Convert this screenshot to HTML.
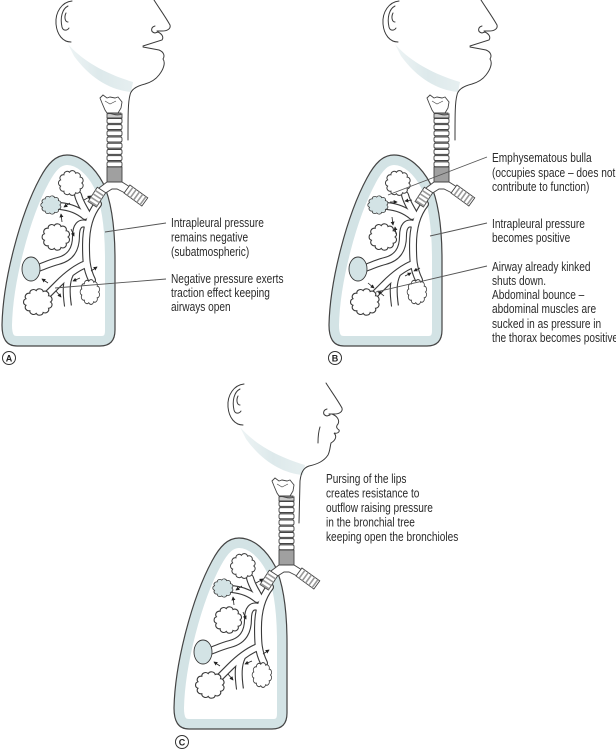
<!DOCTYPE html>
<html><head><meta charset="utf-8"><style>
html,body{margin:0;padding:0;background:#fff;}
svg{display:block;}
</style></head><body>
<svg width="616" height="750" viewBox="0 0 616 750" xmlns="http://www.w3.org/2000/svg">
<defs>
  <marker id="ah" viewBox="0 0 6 6" refX="5" refY="3" markerWidth="4" markerHeight="4" orient="auto" markerUnits="userSpaceOnUse">
    <path d="M0 0 L6 3 L0 6 Z" fill="#222"/>
  </marker>
  <linearGradient id="ng" x1="0" y1="0" x2="1" y2="0">
    <stop offset="0" stop-color="#eef4f5"/>
    <stop offset="0.5" stop-color="#dde9eb"/>
    <stop offset="1" stop-color="#e6eff0"/>
  </linearGradient>
  <path id="cl" d="M10 0 A3 3 0 0 1 8.41 5.41 A3 3 0 0 1 4.15 9.1 A3 3 0 0 1 -1.42 9.9 A3 3 0 0 1 -6.55 7.56 A3 3 0 0 1 -9.6 2.82 A3 3 0 0 1 -9.6 -2.82 A3 3 0 0 1 -6.55 -7.56 A3 3 0 0 1 -1.42 -9.9 A3 3 0 0 1 4.15 -9.1 A3 3 0 0 1 8.41 -5.41 A3 3 0 0 1 10 0 Z"/>
  <path id="lp" d="M2 325 C3 280 20 215 40 178 C48 163 56 155 67 155 C82 155 95 168 103 183 C111 200 115 225 115 260 L115 330 C115 341 110 346 100 346 L17 346 C6 346 2 338 2 325 Z"/>
  <clipPath id="lc"><use href="#lp"/></clipPath>

  <g id="head" fill="none" stroke="#3a3a3a" stroke-width="1" stroke-linecap="round">
    <path d="M68 44 C80 58 100 72 133 82 L131 92 C110 90 90 78 74 56 Z" fill="url(#ng)" stroke="none"/>
    <path d="M72 1 C62 2 55 12 56 24 C57 35 63 42 71 42"/>
    <path d="M68 6 C62 9 60 18 62 27 C63 31 67 31 69 28"/>
    <path d="M66 13 C64 17 65 22 68 22"/>
    <path d="M154 0 C159 8 165 16 170 25 C171 29 167 31 162 31 L157 31"/>
    <path d="M155 26 C151 27 150 32 155 33 L158 32"/>
  </g>

  <g id="mouthOpen" fill="none" stroke="#3a3a3a" stroke-width="1" stroke-linecap="round">
    <path d="M158 32 C162 34 164 37 162 40 L143 46"/>
    <path d="M143 47 L159 50 C164 52 165 56 163 59 C166 63 163 70 159 75 C156 79 152 82 145 84 C137 86 131 89 130 95 C128 102 128 115 128 140"/>
  </g>

  <g id="mouthPurse" fill="none" stroke="#3a3a3a" stroke-width="1" stroke-linecap="round">
    <path d="M160 31 C165 33 168 37 166 41 C164 43 164 45 167 47 C168 49 165 51 162 50 C165 53 164 57 159 60 C158 64 158 68 156 72 C152 78 146 81 137 83 C131 85 129 90 128 98 L127 140"/>
    <path d="M148 44 C146 50 146 55 146 60"/>
  </g>

  <g id="body">
    <use href="#lp" fill="#fff"/>
    <use href="#lp" fill="none" stroke="#d3e3e5" stroke-width="20" clip-path="url(#lc)"/>
    <use href="#lp" fill="none" stroke="#444" stroke-width="1.2"/>
    <g fill="none" stroke="#3a3a3a" stroke-width="8" stroke-linecap="round" stroke-linejoin="round">
      <path d="M98 204 C90 214 86 228 86 245 C86 258 86 268 92 280"/>
      <path d="M87 214 C84 208 80 203 78 195"/>
      <path d="M85 216 C78 210 70 207 60 206"/>
      <path d="M86 224 C80 222 76 226 76 236 C76 250 70 258 58 261 C50 263 44 266 38 268"/>
      <path d="M86 264 C76 268 66 276 58 284 C53 289 48 294 44 298"/>
      <path d="M70 274 C66 282 66 292 68 306" stroke-linecap="butt"/>
    </g>
    <g fill="none" stroke="#fff" stroke-width="5.8" stroke-linecap="round" stroke-linejoin="round">
      <path d="M98 204 C90 214 86 228 86 245 C86 258 86 268 92 280"/>
      <path d="M87 214 C84 208 80 203 78 195"/>
      <path d="M85 216 C78 210 70 207 60 206"/>
      <path d="M86 224 C80 222 76 226 76 236 C76 250 70 258 58 261 C50 263 44 266 38 268"/>
      <path d="M86 264 C76 268 66 276 58 284 C53 289 48 294 44 298"/>
      <path d="M70 274 C66 282 66 292 68 306.5" stroke-linecap="butt"/>
    </g>
    <g fill="#fff" stroke="#3a3a3a" stroke-width="0.9">
      <use href="#cl" transform="translate(71,183) scale(1.08,1.08)"/>
      <use href="#cl" transform="translate(56,237) scale(1.2,1.15)"/>
      <use href="#cl" transform="translate(38,302) scale(1.25,1.15)"/>
      <use href="#cl" transform="translate(90,292) scale(0.85,1.08)"/>
      <use href="#cl" transform="translate(51,205) scale(0.88,0.8)" fill="#d3e3e5"/>
      <ellipse cx="31" cy="269" rx="9" ry="12" fill="#d3e3e5"/>
    </g>
    <g stroke="#444" stroke-width="0.9">
      <path d="M100 98 L103 95 L107 98 L110 97 L115 98 L118 97 L122 102 L121 108 L118 113 L107 113 L105 110 L102 103 Z" fill="#fff"/>
      <path d="M105 101 L110 104 L116 101" fill="none" stroke-width="0.6"/>
      <rect x="108" y="113" width="13" height="54" fill="#8e8e8e"/>
      <path d="M107 114 C111 112 116 117 122 114 L122 118 L107 118 Z" fill="#ccc"/>
      <rect x="107" y="118.5" width="15" height="4.8" rx="1.5" fill="#fff"/>
      <rect x="107" y="124.7" width="15" height="4.8" rx="1.5" fill="#fff"/>
      <rect x="107" y="130.9" width="15" height="4.8" rx="1.5" fill="#fff"/>
      <rect x="107" y="137.1" width="15" height="4.8" rx="1.5" fill="#fff"/>
      <rect x="107" y="143.3" width="15" height="4.8" rx="1.5" fill="#fff"/>
      <rect x="107" y="149.5" width="15" height="4.8" rx="1.5" fill="#fff"/>
      <rect x="107" y="155.7" width="15" height="4.8" rx="1.5" fill="#fff"/>
      <rect x="107" y="161.9" width="15" height="4.8" rx="1.5" fill="#fff"/>
      <rect x="107" y="167" width="15" height="15" fill="#a0a0a0"/>
      <path d="M107 182 L122 182 L130 187 L125 193 L117 189 L112 189 L104 194 L99 188 Z" fill="#fff"/>
      <g transform="translate(101.5,190) rotate(123)">
        <rect x="0" y="-5" width="17" height="10" fill="#fff"/>
        <rect x="3" y="-5" width="1.6" height="10" fill="#999" stroke="none"/>
        <rect x="7" y="-5" width="1.6" height="10" fill="#999" stroke="none"/>
        <rect x="11" y="-5" width="1.6" height="10" fill="#999" stroke="none"/>
        <rect x="15" y="-5" width="1.6" height="10" fill="#999" stroke="none"/>
      </g>
      <g transform="translate(127,189) rotate(36)">
        <rect x="0" y="-5" width="22" height="10" fill="#fff"/>
        <rect x="3" y="-5" width="1.6" height="10" fill="#999" stroke="none"/>
        <rect x="7" y="-5" width="1.6" height="10" fill="#999" stroke="none"/>
        <rect x="11" y="-5" width="1.6" height="10" fill="#999" stroke="none"/>
        <rect x="15" y="-5" width="1.6" height="10" fill="#999" stroke="none"/>
        <rect x="19" y="-5" width="1.6" height="10" fill="#999" stroke="none"/>
      </g>
    </g>
  </g>

  <g id="arrA" stroke="#222" stroke-width="0.8" marker-end="url(#ah)">
    <path d="M70 203 L64 207"/>
    <path d="M84 200 L91 196"/>
    <path d="M62 222 L61 214"/>
    <path d="M71 229 L74 236"/>
    <path d="M48 283 L42 279"/>
    <path d="M56 291 L61 297"/>
    <path d="M80 278 L73 281"/>
    <path d="M91 271 L97 267"/>
  </g>
  <g id="arrB" stroke="#222" stroke-width="0.8" marker-end="url(#ah)">
    <path d="M63 202 L70 202"/>
    <path d="M85 200 L78 201"/>
    <path d="M65 217 L66 225"/>
    <path d="M69 234 L68 227"/>
    <path d="M78 276 L84 273"/>
    <path d="M93 268 L87 271"/>
    <path d="M41 283 L47 288"/>
    <path d="M57 296 L51 291"/>
  </g>
</defs>

<rect width="616" height="750" fill="#fff"/>

<g>
  <use href="#head"/>
  <use href="#mouthOpen"/>
  <use href="#body"/>
  <use href="#arrA"/>
  <g stroke="#555" stroke-width="0.9">
    <line x1="166" y1="223" x2="105" y2="232"/>
    <line x1="166" y1="279" x2="55" y2="288"/>
  </g>
  <circle cx="9" cy="358" r="6.5" fill="#fff" stroke="#333" stroke-width="1"/>
  <text x="9" y="361.5" font-family="Liberation Sans, sans-serif" font-size="9" font-weight="bold" text-anchor="middle" fill="#222">A</text>
</g>

<g transform="translate(327,0)">
  <use href="#head"/>
  <use href="#mouthOpen"/>
  <use href="#body"/>
  <use href="#arrB"/>
  <circle cx="8" cy="358" r="6.5" fill="#fff" stroke="#333" stroke-width="1"/>
  <text x="8" y="361.5" font-family="Liberation Sans, sans-serif" font-size="9" font-weight="bold" text-anchor="middle" fill="#222">B</text>
</g>
<g stroke="#555" stroke-width="0.9">
  <line x1="487" y1="157" x2="388" y2="195"/>
  <line x1="487" y1="223" x2="430" y2="236"/>
  <line x1="487" y1="266" x2="376" y2="292"/>
</g>

<g transform="translate(172,383)">
  <use href="#head"/>
  <use href="#mouthPurse"/>
  <use href="#body"/>
  <use href="#arrA"/>
</g>
<circle cx="182" cy="742" r="6.5" fill="#fff" stroke="#333" stroke-width="1"/>
<text x="182" y="745.5" font-family="Liberation Sans, sans-serif" font-size="9" font-weight="bold" text-anchor="middle" fill="#222">C</text>

<g font-family="Liberation Sans, Arial, sans-serif" font-size="13" fill="#2b2b2b">
  <g transform="translate(171,0) scale(0.78,1)">
    <text>
      <tspan x="0" y="227">Intrapleural pressure</tspan>
      <tspan x="0" y="241.5">remains negative</tspan>
      <tspan x="0" y="256">(subatmospheric)</tspan>
      <tspan x="0" y="283">Negative pressure exerts</tspan>
      <tspan x="0" y="297">traction effect keeping</tspan>
      <tspan x="0" y="311">airways open</tspan>
    </text>
  </g>
  <g transform="translate(492,0) scale(0.78,1)">
    <text>
      <tspan x="0" y="162">Emphysematous bulla</tspan>
      <tspan x="0" y="177">(occupies space – does not</tspan>
      <tspan x="0" y="191">contribute to function)</tspan>
      <tspan x="0" y="228">Intrapleural pressure</tspan>
      <tspan x="0" y="242">becomes positive</tspan>
      <tspan x="0" y="271">Airway already kinked</tspan>
      <tspan x="0" y="285">shuts down.</tspan>
      <tspan x="0" y="299">Abdominal bounce –</tspan>
      <tspan x="0" y="313">abdominal muscles are</tspan>
      <tspan x="0" y="328">sucked in as pressure in</tspan>
      <tspan x="0" y="342">the thorax becomes positive</tspan>
    </text>
  </g>
  <g transform="translate(326,0) scale(0.78,1)">
    <text>
      <tspan x="0" y="483">Pursing of the lips</tspan>
      <tspan x="0" y="497.5">creates resistance to</tspan>
      <tspan x="0" y="512">outflow raising pressure</tspan>
      <tspan x="0" y="526.5">in the bronchial tree</tspan>
      <tspan x="0" y="541">keeping open the bronchioles</tspan>
    </text>
  </g>
</g>
</svg>
</body></html>
